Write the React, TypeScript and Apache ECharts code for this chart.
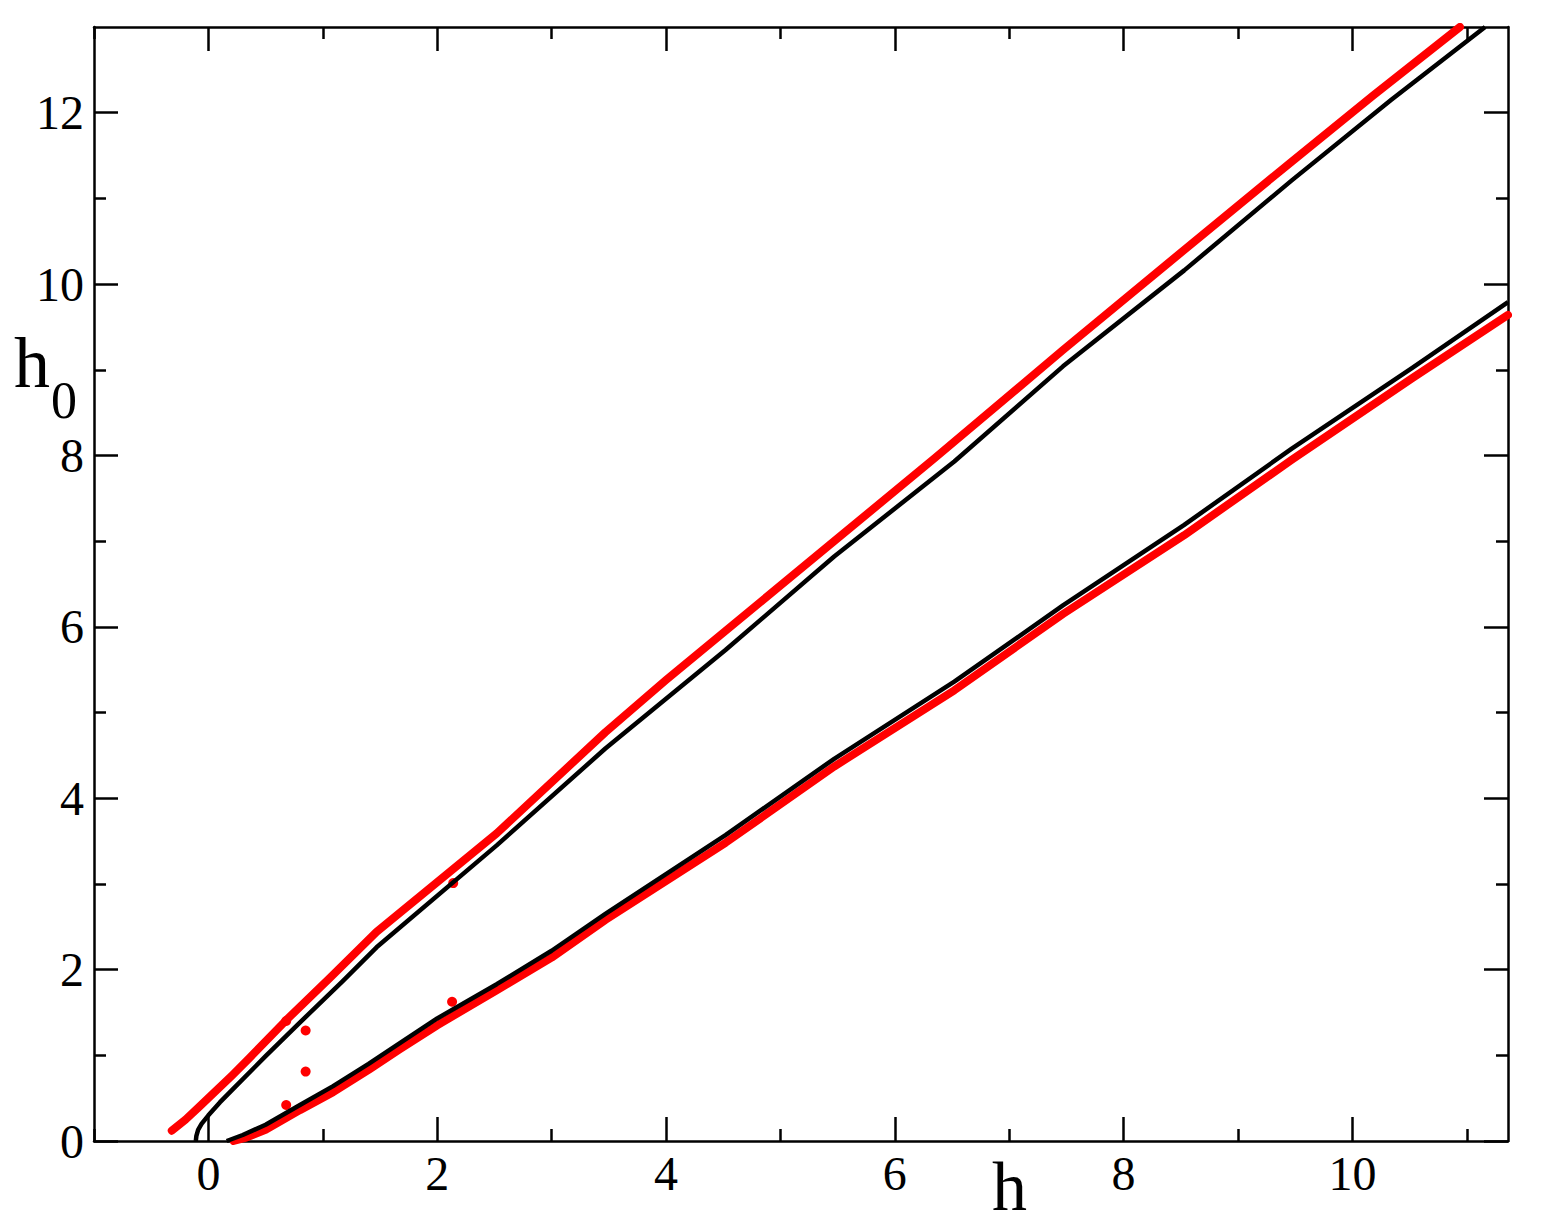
import React, { useEffect, useRef } from "react";
import * as echarts from "echarts";

// Tick values
const xMajorTicks = [0, 2, 4, 6, 8, 10];
const xMinorTicks = [-1, 1, 3, 5, 7, 9, 11];
const yMajorTicks = [0, 2, 4, 6, 8, 10, 12];
const yMinorTicks = [1, 3, 5, 7, 9, 11];

// Upper red (data points band)
const redUpperH = [-0.32, -0.2, -0.08, 0.21, 0.36, 0.68, 1.06, 1.47, 2.52, 3.47, 4.0, 5.47, 6.35, 7.47, 8.44, 9.47, 10.18, 10.94];
const redUpperH0 = [0.12, 0.25, 0.4, 0.77, 0.97, 1.41, 1.9, 2.44, 3.59, 4.77, 5.38, 7.0, 7.97, 9.23, 10.3, 11.43, 12.2, 13.0];

// Upper black curve
const blackUpperH = [-0.11, -0.105, -0.09, -0.06, 0.0, 0.1, 0.21, 0.5, 0.79, 1.17, 1.47, 2.52, 3.47, 4.52, 5.47, 6.52, 7.47, 8.53, 9.47, 10.34, 11.16];
const blackUpperH0 = [0.0, 0.06, 0.13, 0.2, 0.3, 0.45, 0.6, 0.99, 1.37, 1.86, 2.26, 3.45, 4.58, 5.73, 6.82, 7.93, 9.04, 10.16, 11.21, 12.15, 13.0];

// Lower black curve
const blackLowerH = [0.16, 0.3, 0.5, 0.8, 1.09, 1.4, 1.67, 2.0, 2.52, 3.0, 3.47, 4.52, 5.47, 6.52, 7.47, 8.53, 9.47, 10.52, 11.36];
const blackLowerH0 = [0.0, 0.07, 0.19, 0.42, 0.64, 0.9, 1.14, 1.43, 1.83, 2.22, 2.65, 3.57, 4.46, 5.36, 6.25, 7.19, 8.08, 9.02, 9.79];

// Lower red (data points band)
const redLowerH = [0.22, 0.33, 0.5, 0.8, 1.09, 1.4, 1.67, 2.0, 2.52, 3.0, 3.47, 4.52, 5.47, 6.52, 7.47, 8.53, 9.47, 10.52, 11.36];
const redLowerH0 = [0.0, 0.04, 0.13, 0.36, 0.57, 0.83, 1.07, 1.35, 1.76, 2.14, 2.58, 3.48, 4.37, 5.26, 6.15, 7.07, 7.95, 8.9, 9.64];

// Stray red points
const strayH = [0.85, 0.85, 0.68, 0.68, 2.13, 2.14];
const strayH0 = [1.29, 0.81, 0.42, 1.4, 1.625, 3.01];

const FONT = "'Liberation Serif', 'Times New Roman', serif";
const X_MIN = -1;
const X_MAX = 11.36;
const Y_MIN = 0;
const Y_MAX = 13;

const pairs = (xs: number[], ys: number[]) => xs.map((x, i) => [x, ys[i]]);

export default function App() {
  const ref = useRef<HTMLDivElement>(null);

  useEffect(() => {
    if (!ref.current) return;
    const chart = echarts.init(ref.current, null, { renderer: "svg" });

    const lineStyle = { color: "#000", width: 2.5 };
    const baseX = {
      type: "value" as const,
      min: X_MIN,
      max: X_MAX,
      splitLine: { show: false },
    };
    const baseY = {
      type: "value" as const,
      min: Y_MIN,
      max: Y_MAX,
      splitLine: { show: false },
    };

    const redLine = (name: string, xs: number[], ys: number[]) => ({
      name,
      type: "line",
      data: pairs(xs, ys),
      showSymbol: false,
      symbol: "none",
      smooth: false,
      lineStyle: { color: "#ff0000", width: 8, cap: "round", join: "round" },
      z: 2,
    });
    const blackLine = (name: string, xs: number[], ys: number[]) => ({
      name,
      type: "line",
      data: pairs(xs, ys),
      showSymbol: false,
      symbol: "none",
      smooth: false,
      lineStyle: { color: "#000", width: 4.5, join: "round" },
      z: 3,
    });

    const option: any = {
      animation: false,
      backgroundColor: "#fff",
      grid: { left: 94, right: 34, top: 27, bottom: 83, containLabel: false },
      xAxis: [
        {
          ...baseX,
          position: "bottom",
          axisLine: { show: true, onZero: false, lineStyle },
          axisTick: { show: true, inside: true, length: 24, lineStyle, customValues: xMajorTicks },
          axisLabel: {
            show: true,
            customValues: xMajorTicks,
            fontSize: 48,
            fontFamily: FONT,
            color: "#000",
            margin: 8,
          },
        },
        {
          ...baseX,
          position: "bottom",
          axisLine: { show: false, onZero: false },
          axisTick: { show: true, inside: true, length: 12, lineStyle, customValues: xMinorTicks },
          axisLabel: { show: false },
        },
        {
          ...baseX,
          position: "top",
          axisLine: { show: true, onZero: false, lineStyle },
          axisTick: { show: true, inside: true, length: 24, lineStyle, customValues: xMajorTicks },
          axisLabel: { show: false },
        },
        {
          ...baseX,
          position: "top",
          axisLine: { show: false, onZero: false },
          axisTick: { show: true, inside: true, length: 12, lineStyle, customValues: xMinorTicks },
          axisLabel: { show: false },
        },
      ],
      yAxis: [
        {
          ...baseY,
          position: "left",
          axisLine: { show: true, onZero: false, lineStyle },
          axisTick: { show: true, inside: true, length: 24, lineStyle, customValues: yMajorTicks },
          axisLabel: {
            show: true,
            customValues: yMajorTicks,
            fontSize: 48,
            fontFamily: FONT,
            color: "#000",
            margin: 10,
          },
        },
        {
          ...baseY,
          position: "left",
          axisLine: { show: false, onZero: false },
          axisTick: { show: true, inside: true, length: 12, lineStyle, customValues: yMinorTicks },
          axisLabel: { show: false },
        },
        {
          ...baseY,
          position: "right",
          axisLine: { show: true, onZero: false, lineStyle },
          axisTick: { show: true, inside: true, length: 24, lineStyle, customValues: yMajorTicks },
          axisLabel: { show: false },
        },
        {
          ...baseY,
          position: "right",
          axisLine: { show: false, onZero: false },
          axisTick: { show: true, inside: true, length: 12, lineStyle, customValues: yMinorTicks },
          axisLabel: { show: false },
        },
      ],
      series: [
        redLine("red upper", redUpperH, redUpperH0),
        redLine("red lower", redLowerH, redLowerH0),
        {
          name: "red stray",
          type: "scatter",
          data: pairs(strayH, strayH0),
          symbol: "circle",
          symbolSize: 10,
          itemStyle: { color: "#ff0000", opacity: 1 },
          z: 2,
        },
        blackLine("black upper", blackUpperH, blackUpperH0),
        blackLine("black lower", blackLowerH, blackLowerH0),
      ],
      graphic: [
        {
          type: "text",
          x: 14,
          y: 363,
          style: { text: "h", fontSize: 72, fontFamily: FONT, fill: "#000", align: "left", verticalAlign: "middle" },
        },
        {
          type: "text",
          x: 51,
          y: 400,
          style: { text: "0", fontSize: 52, fontFamily: FONT, fill: "#000", align: "left", verticalAlign: "middle" },
        },
        {
          type: "text",
          x: 992,
          y: 1186,
          style: {
            text: "h",
            fontSize: 70,
            lineHeight: 56,
            fontFamily: FONT,
            fill: "#000",
            align: "left",
            verticalAlign: "middle",
          },
        },
      ],
    };

    chart.setOption(option);
    return () => chart.dispose();
  }, []);

  return (
    <div
      ref={ref}
      style={{ position: "fixed", left: 0, top: 0, width: 1542, height: 1224, background: "#fff" }}
    />
  );
}
